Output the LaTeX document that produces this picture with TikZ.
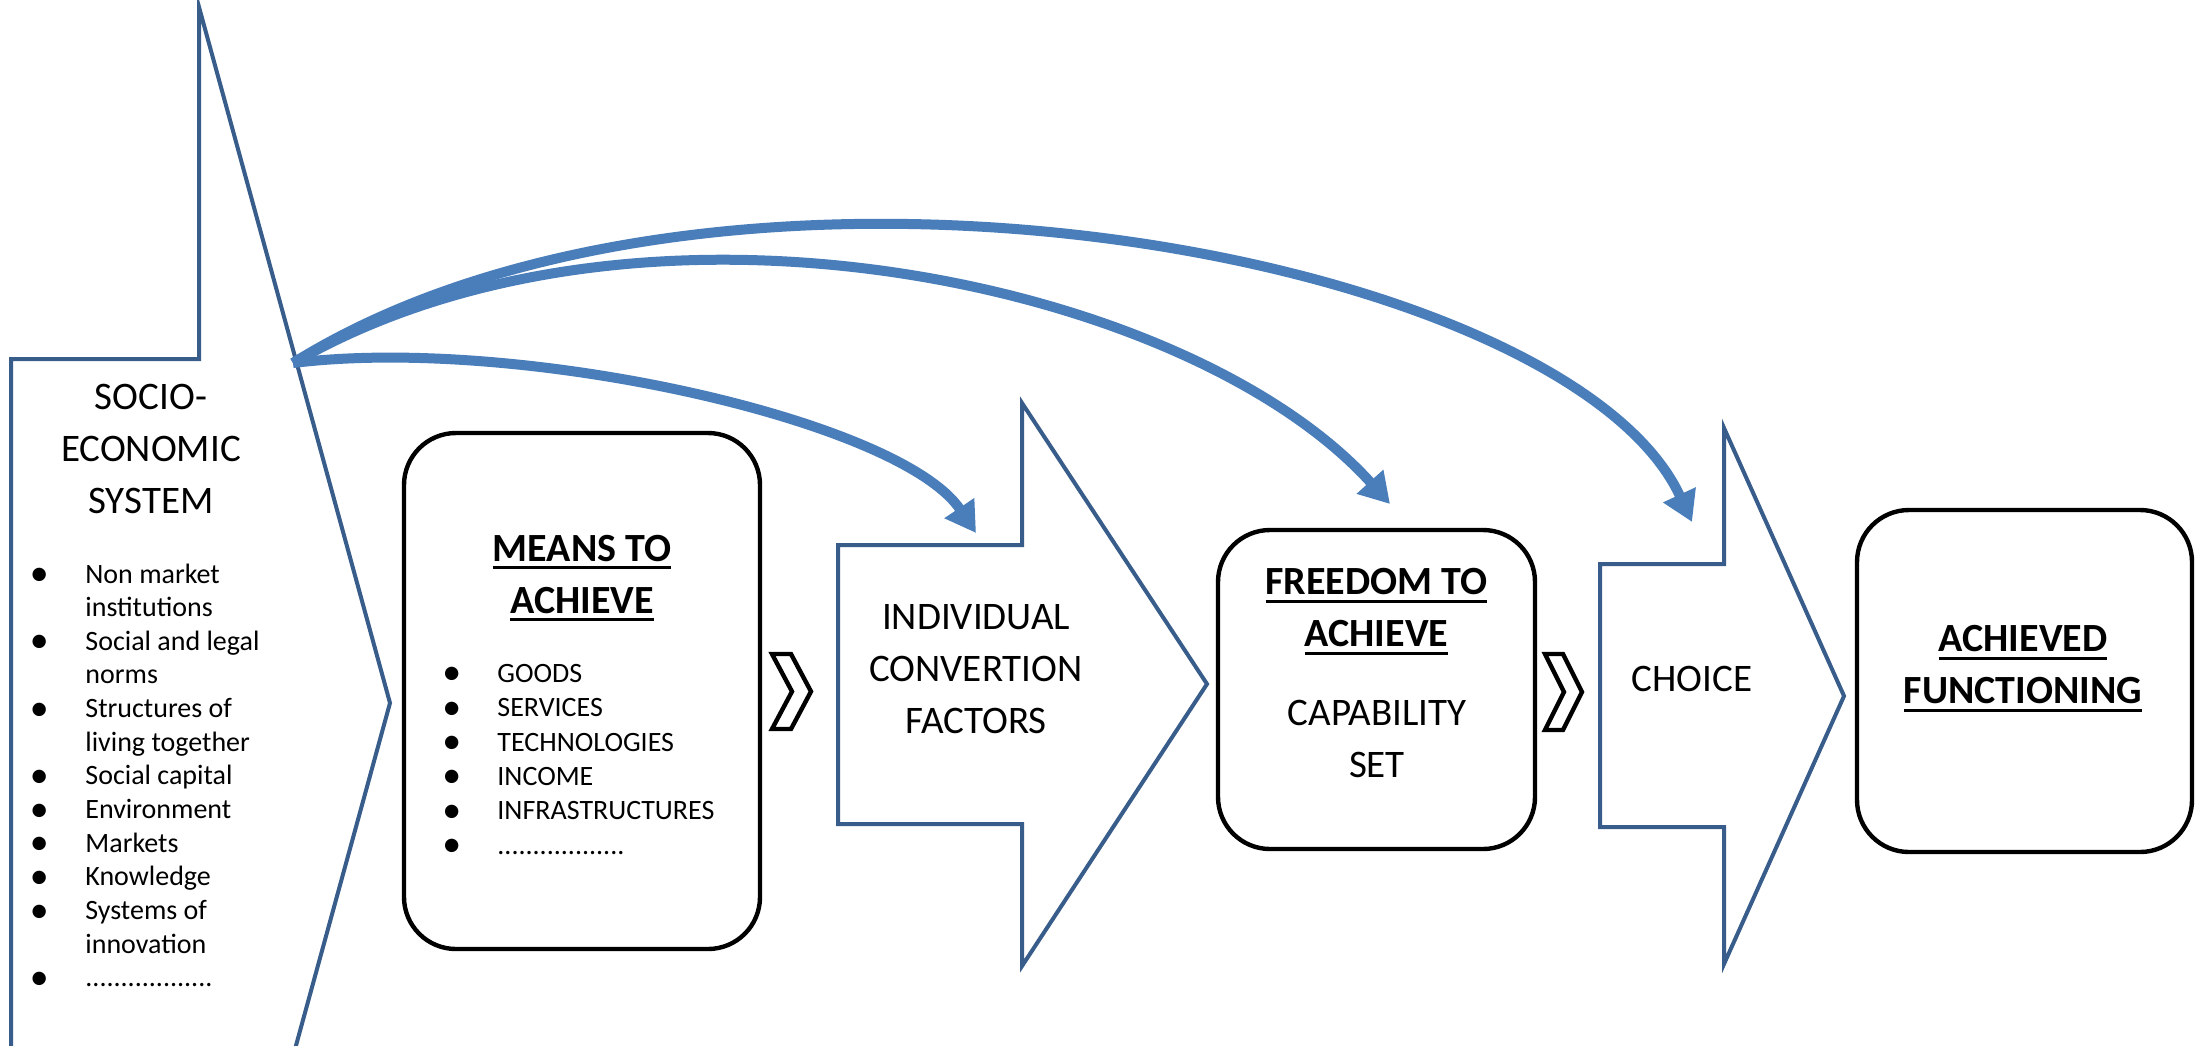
\documentclass[tikz,border=0pt]{standalone}
\usepackage{fontspec}
\setmainfont{Carlito}
\usetikzlibrary{arrows.meta}

\definecolor{shapeblue}{HTML}{385D8A}
\definecolor{flowblue}{HTML}{4A7EBB}

% underline that adds no depth to the line
\newsavebox\hdbox
\newcommand\headul[1]{\sbox\hdbox{#1}\rlap{\raisebox{-4pt}[0pt][0pt]{\rule{\wd\hdbox}{1.6pt}}}\usebox\hdbox}
\newcommand\bul{\makebox[11pt]{\raisebox{-1.2pt}{\scalebox{1.35}{\textbullet}}}}

\tikzset{
  bigarrow/.style={draw=shapeblue, line width=2pt, line join=miter, fill=white},
  roundbox/.style={draw=black, line width=2.2pt, rounded corners=26pt, fill=white, inner sep=0pt},
  chevronmark/.style={draw=black, line width=2.2pt, line join=miter, fill=white},
  flow/.style={draw=flowblue, line width=5pt, -{Triangle[width=17pt,length=15pt]}},
  headtxt/.style={font=\fontsize{19.5}{26}\selectfont, align=center, inner sep=0pt},
  boldtxt/.style={font=\bfseries\fontsize{20}{26}\selectfont, align=center, inner sep=0pt},
  listtxt/.style={inner sep=0pt, anchor=base west},
}

\begin{document}
\begin{tikzpicture}[x=0.5pt, y=-0.5pt]
  \useasboundingbox (0,0) rectangle (2203,1045);
  \clip (0,0) rectangle (2203,1045);
  \fill[white] (0,0) rectangle (2203,1045);

  % socio-economic system arrow
  \draw[bigarrow] (11,1060) -- (11,359) -- (199,359) -- (199,7) -- (390,703)
        -- (199,1399) -- (199,1060) -- cycle;
  \node[headtxt] (socio) at (151,448.5) {SOCIO-\\ECONOMIC\\SYSTEM};
  \node[listtxt, font=\fontsize{14}{16.83}\selectfont] (sociolist) at (28,583)
    {\begin{tabular}[t]{@{}l@{\hspace{17.5pt}}l@{}}
      \bul & Non market\\
           & institutions\\
      \bul & Social and legal\\
           & norms\\
      \bul & Structures of\\
           & living together\\
      \bul & Social capital\\
      \bul & Environment\\
      \bul & Markets\\
      \bul & Knowledge\\
      \bul & Systems of\\
           & innovation\\
      \bul & ..................
    \end{tabular}};

  % means to achieve
  \node[roundbox, minimum width=178pt, minimum height=258pt] (means) at (582,691) {};
  \node[boldtxt] (meanshead) at (582,574.3) {\headul{MEANS TO}\\\headul{ACHIEVE}};
  \node[listtxt, font=\fontsize{14}{17.15}\selectfont] (meanslist) at (440.5,682.5)
    {\begin{tabular}[t]{@{}l@{\hspace{17.25pt}}l@{}}
      \bul & GOODS\\
      \bul & SERVICES\\
      \bul & TECHNOLOGIES\\
      \bul & INCOME\\
      \bul & INFRASTRUCTURES\\
      \bul & ..................
    \end{tabular}};

  % first chevron
  \draw[chevronmark] (772,654) -- (791,654) -- (811,691.5) -- (791,729)
        -- (772,729) -- (792,691.5) -- cycle;

  % individual conversion factors arrow
  \draw[bigarrow] (838,545) -- (1022,545) -- (1022,403) -- (1207,684)
        -- (1022,966) -- (1022,824) -- (838,824) -- cycle;
  \node[headtxt] (conv) at (976,669.3) {INDIVIDUAL\\CONVERTION\\FACTORS};

  % freedom to achieve
  \node[roundbox, minimum width=158.5pt, minimum height=159.5pt] (freedom) at (1376.5,689.5) {};
  \node[boldtxt] (freehead) at (1376.5,608) {\headul{FREEDOM TO}\\\headul{ACHIEVE}};
  \node[headtxt] (capset) at (1377,738.7) {CAPABILITY\\SET};

  % second chevron
  \draw[chevronmark] (1545,654) -- (1563,654) -- (1582,692) -- (1563,730)
        -- (1545,730) -- (1564,692) -- cycle;

  % choice arrow
  \draw[bigarrow] (1600,564) -- (1724,564) -- (1724,428) -- (1844,696)
        -- (1724,964) -- (1724,827) -- (1600,827) -- cycle;
  \node[headtxt] (choice) at (1692,679) {CHOICE};

  % achieved functioning
  \node[roundbox, minimum width=167.5pt, minimum height=171pt] (achieved) at (2024.5,681) {};
  \node[boldtxt] (achhead) at (2023,665) {\headul{ACHIEVED}\\\headul{FUNCTIONING}};

  % influence of the socio-economic system
  \coordinate (src) at (293,363);
  \coordinate (convin) at (976,533);
  \coordinate (freein) at (1390,504);
  \coordinate (choicein) at (1692,522);
  \draw[flow] (src) .. controls (520,335) and (900,420) .. (convin);
  \draw[flow] (src) .. controls (639,163) and (1189,281) .. (freein);
  \draw[flow] (src) .. controls (717,98) and (1566,250) .. (choicein);
\end{tikzpicture}
\end{document}
